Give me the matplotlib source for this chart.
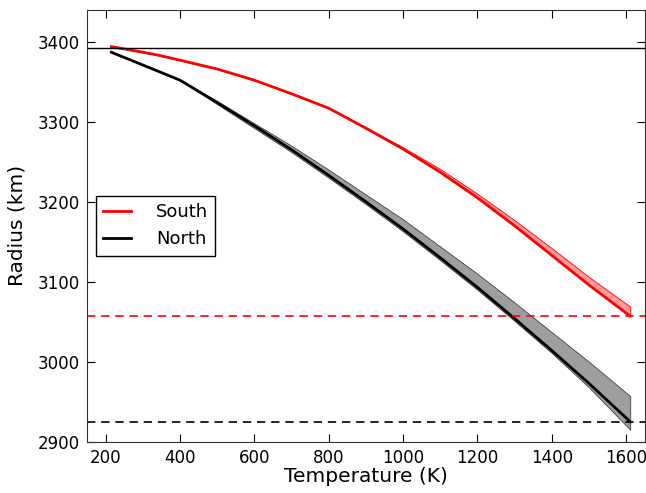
import matplotlib
matplotlib.use("Agg")
import matplotlib.pyplot as plt
import numpy as np

# temperature grid (K)
temp_south = [215, 300, 345, 400, 500, 600, 700, 800, 840,
              900, 1000, 1100, 1200, 1300, 1400, 1500, 1611]
radius_south = [3394, 3387, 3383, 3377, 3366, 3352, 3335, 3317, 3307,
                3292, 3266, 3237, 3205, 3170, 3133, 3096, 3057]
south_upper = [3394, 3387, 3383, 3377, 3366, 3352, 3335, 3317, 3307,
               3293, 3268, 3241, 3210, 3177, 3142, 3106, 3069]

temp_north = [215, 300, 400, 500, 600, 700, 800, 900, 1000,
              1100, 1200, 1300, 1400, 1500, 1611]
radius_north = [3387, 3371, 3352, 3324, 3295, 3265, 3233, 3200, 3166,
                3130, 3093, 3054, 3014, 2973, 2925]
north_upper = [3387, 3371, 3352, 3326, 3298, 3270, 3240, 3209, 3178,
               3144, 3110, 3074, 3037, 3000, 2957]
north_lower = [3387, 3371, 3352, 3322, 3292, 3262, 3230, 3197, 3163,
               3127, 3090, 3051, 3011, 2968, 2915]

r_surface = 3392
r_core_south = 3057.5
r_core_north = 2925

fig = plt.figure(figsize=(6.46, 4.93), dpi=100)
ax = fig.add_axes([0.135, 0.104, 0.863, 0.876])

ax.fill_between(temp_north, north_lower, north_upper, facecolor='0.62',
                edgecolor='0.25', lw=0.6)
ax.fill_between(temp_south, radius_south, south_upper, facecolor='#ff9a9a',
                edgecolor='red', lw=0.6)

ax.plot(temp_south, radius_south, color='red', lw=2, label='South')
ax.plot(temp_north, radius_north, color='black', lw=2, label='North')

ax.axhline(r_surface, color='black', lw=1)
ax.axhline(r_core_south, color='red', lw=1.2, ls=(0, (5, 3.5)))
ax.axhline(r_core_north, color='black', lw=1.2, ls=(0, (5, 3.5)))

ax.set_xlim(150, 1650)
ax.set_ylim(2900, 3440)
ax.set_xticks(np.arange(200, 1601, 200))
ax.set_yticks(np.arange(2900, 3401, 100))
ax.tick_params(direction='in', top=True, right=True, length=6,
               labelsize=12, pad=5)
for s in ax.spines.values():
    s.set_color('0.2')

ax.set_xlabel('Temperature (K)', fontsize=14.5, labelpad=0)
ax.set_ylabel('Radius (km)', fontsize=14.5, labelpad=8)

leg = ax.legend(loc='center left', bbox_to_anchor=(0.0, 0.5),
                fontsize=13, fancybox=False, framealpha=1,
                edgecolor='black', handlelength=1.5, handletextpad=1.4)
leg.get_frame().set_linewidth(1)

fig.savefig('out.png', dpi=100)
